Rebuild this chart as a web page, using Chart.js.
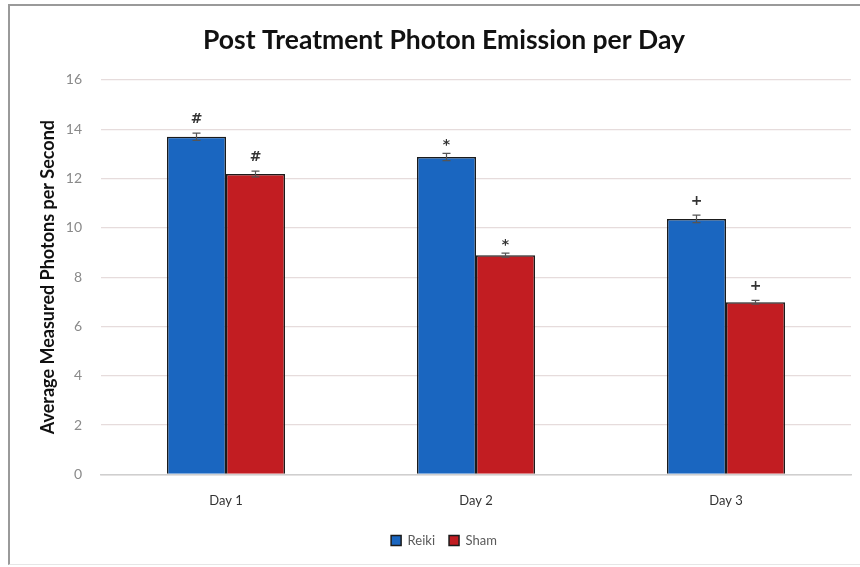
<!DOCTYPE html>
<html>
<head>
<meta charset="utf-8">
<script src="https://cdn.jsdelivr.net/npm/chart.js@4"></script>
<style>
html,body{margin:0;padding:0;background:#fff;}
#wrap{position:absolute;left:0;top:0;width:860px;height:567px;}
#frame{position:absolute;left:8px;top:4px;width:852px;height:561px;border-left:2px solid #9a9a9a;border-top:2px solid #9a9a9a;border-bottom:1px solid #e6e6e6;box-sizing:border-box;pointer-events:none;}
canvas{position:absolute;left:0;top:0;}
</style>
</head>
<body>
<div id="wrap"><canvas id="c" width="860" height="567"></canvas><div id="frame"></div></div>
<script>
const categories = ["Day 1", "Day 2", "Day 3"];
const reikiValues = [13.69, 12.87, 10.36];
const shamValues = [12.18, 8.89, 6.98];
const reikiErrors = [0.15, 0.15, 0.15];
const shamErrors = [0.12, 0.08, 0.08];
const reikiMarks = ["#", "*", "+"];
const shamMarks = ["#", "*", "+"];
const yTicks = [0, 2, 4, 6, 8, 10, 12, 14, 16];

const errorPlugin = {
  id: 'errs',
  afterDatasetsDraw(chart) {
    const ctx = chart.ctx;
    const y = chart.scales.y;
    chart.data.datasets.forEach((ds, di) => {
      const meta = chart.getDatasetMeta(di);
      meta.data.forEach((bar, i) => {
        const v = ds.data[i], e = ds.errors[i];
        const top = y.getPixelForValue(v + e), bot = y.getPixelForValue(v - e);
        ctx.save();
        ctx.strokeStyle = '#555';
        ctx.lineWidth = 1.2;
        ctx.beginPath();
        ctx.moveTo(bar.x, top); ctx.lineTo(bar.x, bot);
        ctx.moveTo(bar.x - 4, top); ctx.lineTo(bar.x + 4, top);
        ctx.moveTo(bar.x - 4, bot); ctx.lineTo(bar.x + 4, bot);
        ctx.stroke();
        ctx.fillStyle = '#333';
        ctx.textAlign = 'center';
        ctx.textBaseline = 'alphabetic';
        ctx.font = 'bold 14px "DejaVu Sans"';
        const m = ds.marks[i];
        let off = 10;
        if (m === '*') off = 4;
        ctx.fillText(m, bar.x, top - off);
        ctx.restore();
      });
    });
  }
};

new Chart(document.getElementById('c'), {
  type: 'bar',
  data: {
    labels: categories,
    datasets: [
      { label: 'Reiki', data: reikiValues, errors: reikiErrors, marks: reikiMarks,
        backgroundColor: '#1a66c0', borderColor: '#1b1b1b', borderWidth: 1.5 },
      { label: 'Sham', data: shamValues, errors: shamErrors, marks: shamMarks,
        backgroundColor: '#c21d22', borderColor: '#1b1b1b', borderWidth: 1.5 }
    ]
  },
  options: {
    responsive: false,
    animation: false,
    datasets: { bar: { barPercentage: 1, categoryPercentage: 0.472 } },
    layout: { padding: { left: 37, right: 9, top: 25, bottom: 10 } },
    plugins: {
      title: { display: true, text: 'Post Treatment Photon Emission per Day',
        color: '#111', font: { family: 'Lato', size: 26.5, weight: 'bold' },
        padding: { top: 0, bottom: 23 } },
      legend: { position: 'bottom',
        labels: { boxWidth: 10, boxHeight: 10, color: '#595959', padding: 14,
          font: { family: 'Lato', size: 13 } } },
      tooltip: { enabled: false }
    },
    scales: {
      x: {
        grid: { display: false },
        border: { color: '#cfcfcf', width: 1.5 },
        ticks: { color: '#333', font: { family: 'Lato', size: 13 }, padding: 11 }
      },
      y: {
        min: 0, max: 16,
        afterBuildTicks(s) { s.ticks = yTicks.map(v => ({ value: v })); },
        afterFit(s) { s.width = 64; },
        grid: { color: '#e6dcdc', lineWidth: 1.2, drawTicks: false },
        border: { display: false },
        ticks: { color: '#8a8a8a', font: { family: 'Lato', size: 14 }, padding: 19 },
        title: { display: true, text: 'Average Measured Photons per Second',
          color: '#111', font: { family: 'Lato', size: 18, weight: 'bold' }, padding: 0 }
      }
    }
  },
  plugins: [errorPlugin]
});
</script>
</body>
</html>
